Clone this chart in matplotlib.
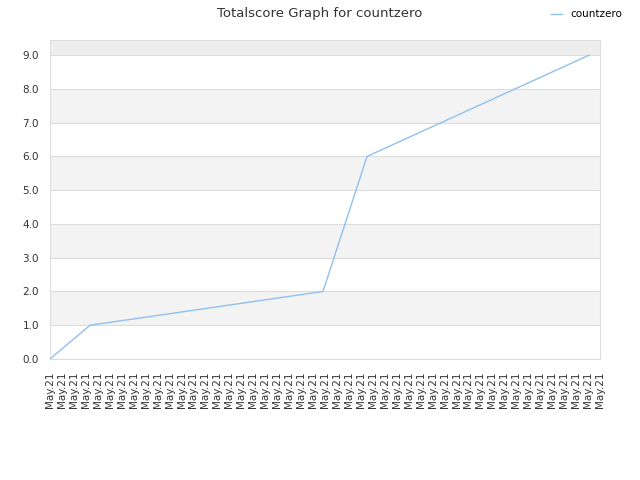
import matplotlib
matplotlib.use('Agg')
import numpy as np
import matplotlib.pyplot as plt

# score data (x = position along time axis, in arbitrary units)
x_vals = [0, 40, 273, 317, 539]
scores = [0, 1, 2, 6, 9]
n_ticks = 47
tick_label = 'May.21'
x_max = 550
y_max = 9.45

fig = plt.figure(figsize=(6.4, 4.8), dpi=100)
ax = fig.add_axes([50/640, 1-359/480, 550/640, 319/480])

# alternating bands
for lo in range(1, 10, 2):
    hi = min(lo + 1, y_max)
    ax.axhspan(lo, hi, color='#f3f3f3', zorder=0, lw=0)
ax.axhspan(9, y_max, color='#eeeeee', zorder=0, lw=0)
for yv in range(1, 10):
    ax.axhline(yv, color='#dddddd', lw=0.8, zorder=1)

ax.plot(x_vals, scores, color='#90c0f0', lw=1, label='countzero', zorder=3)

ax.set_xlim(0, x_max)
ax.set_ylim(0, y_max)
ax.set_xticks(np.linspace(0, x_max, n_ticks))
ax.set_xticklabels([tick_label] * n_ticks, rotation=90, fontsize=7.5, color='#333333')
ax.set_yticks(range(0, 10))
ax.set_yticklabels(['%.1f' % v for v in range(0, 10)], fontsize=7.5, color='#333333')
ax.tick_params(axis='x', length=0, pad=9)
ax.tick_params(axis='y', length=0, pad=8)
for s in ax.spines.values():
    s.set_color('#dddddd')

fig.suptitle('Totalscore Graph for countzero', y=0.985, fontsize=9.5, color='#333333')
fig.legend(loc='upper right', bbox_to_anchor=(0.987, 1.0), frameon=False, fontsize=7.5,
           handlelength=1.1)

plt.savefig('out.png')
